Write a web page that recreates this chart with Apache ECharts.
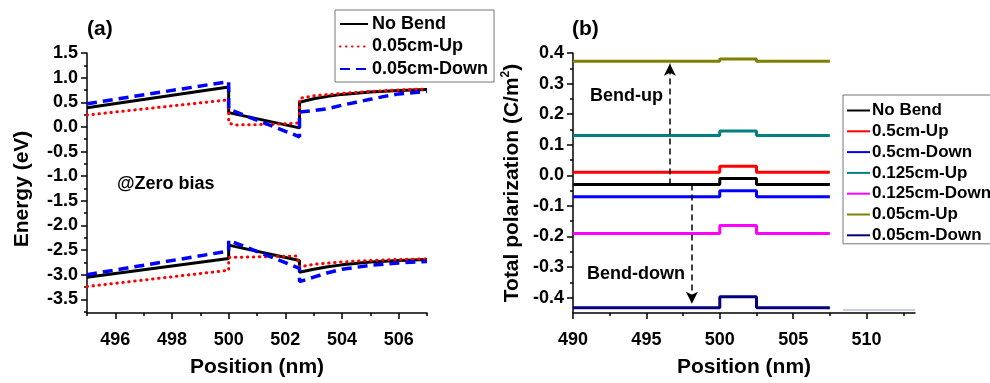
<!DOCTYPE html>
<html>
<head>
<meta charset="utf-8">
<script src="https://cdn.jsdelivr.net/npm/echarts@6/dist/echarts.min.js"></script>
<style>
  html, body { margin: 0; padding: 0; background: #fff; }
  #c { width: 990px; height: 383px; }
</style>
</head>
<body>
<div id="c"></div>
<script>
// ---- panel (a): band edges, [position nm, energy eV]
const aNoBendCB = [[495, 0.39], [500, 0.81], [500, 0.29], [502.5, -0.02], [502.5, 0.5], [503, 0.57], [503.5, 0.62], [504, 0.66], [505, 0.71], [506, 0.74], [507, 0.76]];
const aNoBendVB = [[495, -3.05], [500, -2.67], [500, -2.4], [502.5, -2.71], [502.5, -2.95], [503, -2.89], [503.5, -2.84], [504, -2.8], [505, -2.74], [506, -2.71], [507, -2.69]];
const aUpCB = [[495, 0.24], [500, 0.55], [500, 0.08], [500.2, 0.04], [501.5, 0.05], [502.5, 0.08], [502.5, 0.58], [503, 0.63], [504, 0.68], [505, 0.72], [506, 0.75], [507, 0.77]];
const aUpVB = [[495, -3.24], [500, -2.91], [500, -2.65], [502.4, -2.62], [502.5, -2.84], [503, -2.79], [504, -2.74], [505, -2.71], [506, -2.69], [507, -2.68]];
const aDownCB = [[495, 0.47], [500, 0.92], [500, 0.36], [502.5, -0.2], [502.5, 0.3], [503, 0.33], [503.5, 0.37], [504, 0.44], [504.5, 0.5], [505, 0.56], [505.5, 0.62], [506, 0.67], [507, 0.72]];
const aDownVB = [[495, -3.0], [500, -2.52], [500, -2.3], [502.5, -2.87], [502.5, -3.14], [503, -3.05], [503.5, -2.96], [504, -2.89], [505, -2.81], [506, -2.76], [507, -2.73]];

const aXMajor = [496, 498, 500, 502, 504, 506];
const aXMinor = [495, 497, 499, 501, 503, 505, 507];
const aYMajor = [-3.5, -3.0, -2.5, -2.0, -1.5, -1.0, -0.5, 0.0, 0.5, 1.0, 1.5];
const aYMinor = [-3.75, -3.25, -2.75, -2.25, -1.75, -1.25, -0.75, -0.25, 0.25, 0.75, 1.25];

// ---- panel (b): step profiles, base value and value in the 500-502.5 nm layer
const bNames = ['No Bend', '0.5cm-Up', '0.5cm-Down', '0.125cm-Up', '0.125cm-Down', '0.05cm-Up', '0.05cm-Down'];
const bBase = [-0.03, 0.01, -0.07, 0.13, -0.19, 0.373, -0.433];
const bLayer = [-0.01, 0.03, -0.05, 0.145, -0.164, 0.38, -0.397];
const bSteps = [490, 500, 502.5, 507.5];
const bColors = ['#000000', '#ff0000', '#0000ff', '#008080', '#ff00ff', '#808000', '#000080'];
const bGhost = [[508.4, -0.44], [513.3, -0.44]];
const bArrowUp = [[496.6, -0.03], [496.6, 0.365]];
const bArrowDown = [[498.1, -0.03], [498.1, -0.42]];

const bXMajor = [490, 495, 500, 505, 510];
const bXMinor = [492.5, 497.5, 502.5, 507.5, 512.5];
const bYMajor = [-0.4, -0.3, -0.2, -0.1, 0.0, 0.1, 0.2, 0.3, 0.4];
const bYMinor = [-0.35, -0.25, -0.15, -0.05, 0.05, 0.15, 0.25, 0.35];

const FONT = '"Liberation Sans", Arial, sans-serif';
const chart = echarts.init(document.getElementById('c'));

function stepLine(base, top) {
  const [x0, x1, x2, x3] = bSteps;
  return [[x0, base], [x1, base], [x1, top], [x2, top], [x2, base], [x3, base]];
}

function mainAxis(grid, min, max, major, digits, margin, extra) {
  return Object.assign({
    type: 'value', gridIndex: grid, min: min, max: max,
    axisLine: { show: true, onZero: false, lineStyle: { color: '#000', width: 1.5 } },
    axisTick: { show: true, customValues: major, length: 6, lineStyle: { color: '#000', width: 1.5 } },
    axisLabel: {
      customValues: major, margin: margin, color: '#000', fontFamily: FONT, fontWeight: 'bold', fontSize: 18,
      formatter: (v) => digits ? v.toFixed(digits) : String(v),
    },
    splitLine: { show: false },
    nameTextStyle: { color: '#000', fontFamily: FONT, fontWeight: 'bold', fontSize: 21 },
    nameLocation: 'middle',
  }, extra);
}

function minorAxis(grid, min, max, minor, pos) {
  return {
    type: 'value', gridIndex: grid, min: min, max: max, position: pos,
    axisLine: { show: false, onZero: false },
    axisTick: { show: true, customValues: minor, length: 3, lineStyle: { color: '#000', width: 1.5 } },
    axisLabel: { show: false },
    splitLine: { show: false },
  };
}

const aStyles = [
  { name: 'No Bend', cb: aNoBendCB, vb: aNoBendVB, ls: { color: '#000', width: 3, type: 'solid' } },
  { name: '0.05cm-Up', cb: aUpCB, vb: aUpVB, ls: { color: '#ff0000', width: 3, type: [0.5, 5.5], cap: 'round' } },
  { name: '0.05cm-Down', cb: aDownCB, vb: aDownVB, ls: { color: '#0000ff', width: 3.5, type: [10, 6] } },
];

const series = [];
aStyles.forEach((s) => {
  [s.cb, s.vb].forEach((d) => {
    series.push({
      name: s.name, type: 'line', xAxisIndex: 0, yAxisIndex: 0, data: d,
      symbol: 'none', lineStyle: s.ls, itemStyle: { color: s.ls.color },
    });
  });
});

bNames.forEach((n, i) => {
  series.push({
    name: 'b:' + n, type: 'line', xAxisIndex: 2, yAxisIndex: 2, z: 3,
    data: stepLine(bBase[i], bLayer[i]),
    symbol: 'none', lineStyle: { color: bColors[i], width: 3 }, itemStyle: { color: bColors[i] },
  });
});

series.push({
  type: 'line', xAxisIndex: 2, yAxisIndex: 2, data: bGhost, symbol: 'none',
  lineStyle: { color: '#c9cde2', width: 2 }, silent: true,
  markLine: {
    silent: true, symbol: ['none', 'arrow'], symbolSize: [9, 12],
    label: { show: false },
    lineStyle: { color: '#000', width: 1.5, type: [6, 4] },
    data: [bArrowUp, bArrowDown].map((a) => [{ coord: a[0] }, { coord: a[1] }]),
  },
});

chart.setOption({
  animation: false,
  backgroundColor: '#fff',
  textStyle: { fontFamily: FONT },
  grid: [
    { left: 87, right: 563, top: 53, bottom: 58 },
    { left: 573, right: 75, top: 53, bottom: 59 },
  ],
  xAxis: [
    mainAxis(0, 495, 507, aXMajor, 0, 18, { name: 'Position (nm)', nameGap: 44, position: 'bottom' }),
    minorAxis(0, 495, 507, aXMinor, 'bottom'),
    mainAxis(1, 490, 513.3, bXMajor, 0, 18, { name: 'Position (nm)', nameGap: 44, position: 'bottom' }),
    minorAxis(1, 490, 513.3, bXMinor, 'bottom'),
  ],
  yAxis: [
    mainAxis(0, -3.777, 1.5, aYMajor, 1, 9, { name: 'Energy (eV)', nameGap: 54, nameTextStyle: { color: '#000', fontFamily: FONT, fontWeight: 'bold', fontSize: 21, padding: [0, 0, 0, -12] }, position: 'left' }),
    minorAxis(0, -3.777, 1.5, aYMinor, 'left'),
    mainAxis(1, -0.45, 0.4, bYMajor, 1, 9, {
      name: '{t|Total polarization (C/m}{s|2}{t|)}', nameGap: 49, position: 'left',
      nameTextStyle: {
        rich: {
          t: { color: '#000', fontFamily: FONT, fontWeight: 'bold', fontSize: 21 },
          s: { color: '#000', fontFamily: FONT, fontWeight: 'bold', fontSize: 12, padding: [0, 0, 12, 0] },
        },
      },
    }),
    minorAxis(1, -0.45, 0.4, bYMinor, 'left'),
  ],
  legend: [
    {
      data: aStyles.map((s) => s.name), orient: 'vertical', left: 335, top: 10,
      padding: [5, 6, 4, 4], itemGap: 4.5, itemWidth: 28, itemHeight: 14,
      borderColor: '#777', borderWidth: 1, selectedMode: false,
      itemStyle: { opacity: 0 },
      textStyle: { color: '#000', fontFamily: FONT, fontWeight: 'bold', fontSize: 18, lineHeight: 18, padding: [0, 0, 0, -1] },
    },
    {
      data: bNames.map((n) => 'b:' + n), orient: 'vertical', left: 843, top: 95,
      padding: [7, 4, 0, 3], itemGap: 3.8, itemWidth: 23, itemHeight: 10,
      borderColor: '#777', borderWidth: 1, selectedMode: false,
      itemStyle: { opacity: 0 },
      formatter: (n) => n.slice(2),
      textStyle: { color: '#000', fontFamily: FONT, fontWeight: 'bold', fontSize: 17, lineHeight: 17, width: 106, overflow: 'none', padding: [0, 0, 0, -3] },
    },
  ],
  graphic: [
    { type: 'text', left: 87, top: 19, style: { text: '(a)', font: 'bold 21px ' + FONT, fill: '#000' } },
    { type: 'text', left: 572, top: 19, style: { text: '(b)', font: 'bold 21px ' + FONT, fill: '#000' } },
    { type: 'text', left: 117, top: 175, style: { text: '@Zero bias', font: 'bold 18px ' + FONT, fill: '#000' } },
    { type: 'text', left: 590, top: 87, style: { text: 'Bend-up', font: 'bold 18px ' + FONT, fill: '#000' } },
    { type: 'text', left: 587, top: 265, style: { text: 'Bend-down', font: 'bold 18px ' + FONT, fill: '#000' } },
  ],
  series: series,
});
</script>
</body>
</html>
